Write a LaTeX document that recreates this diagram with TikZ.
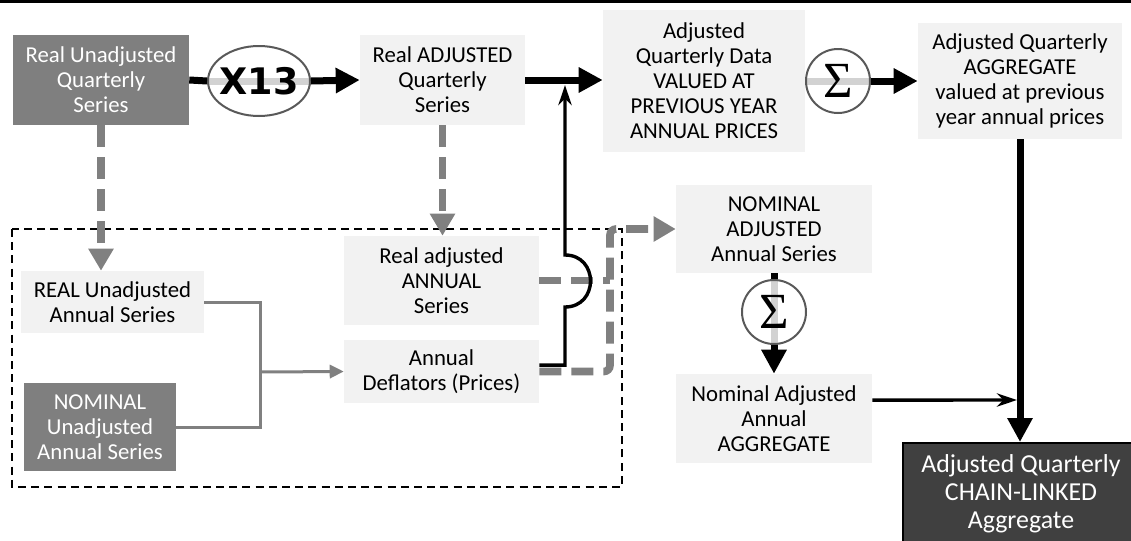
\documentclass[tikz,border=0pt]{standalone}
\usepackage{fontspec}
\setmainfont{Carlito}
\newfontfamily\heavyfont{DejaVu Sans}
\newfontfamily\sigmafont{Liberation Serif}
\usetikzlibrary{arrows.meta,shapes.geometric,backgrounds}
\definecolor{boxdark}{RGB}{127,127,127}
\definecolor{boxlight}{RGB}{242,242,242}
\definecolor{chainfill}{RGB}{64,64,64}
\definecolor{ringgray}{RGB}{89,89,89}
\definecolor{flowgray}{RGB}{128,128,128}
\definecolor{bandgray}{RGB}{210,210,210}
\newcommand\diagfont{\fontsize{16.2}{17.8}\selectfont}
\tikzset{
  box/.style={inner sep=0pt, align=center, font=\diagfont},
  lightbox/.style={box, fill=boxlight},
  darkbox/.style={box, fill=boxdark, text=white},
  chainbox/.style={box, fill=chainfill, draw=black, line width=0.5mm, text=white,
    font=\fontsize{18.4}{19.9}\selectfont},
  opring/.style={circle, draw=ringgray, line width=0.5mm, inner sep=0pt, minimum size=16mm,
    font=\sigmafont\fontsize{36}{36}\selectfont},
  opoval/.style={ellipse, draw=ringgray, line width=0.5mm, inner sep=0pt,
    font=\heavyfont\bfseries\fontsize{26}{26}\selectfont},
  stem/.style={line width=1.75mm},
  flow/.style={stem, -{Triangle[length=6mm,width=6mm]}},
  band/.style={bandgray, line width=1.75mm},
  carry/.style={flowgray, line width=1.9mm, dash pattern=on 5.5mm off 2.5mm,
    -{Triangle[length=5.5mm,width=6mm]}},
  feed/.style={flowgray, line width=0.75mm},
  link/.style={line width=0.85mm, -{Stealth[length=5mm,width=3.3mm]}},
  frame/.style={line width=0.5mm, dash pattern=on 2mm off 1.3mm},
}
\begin{document}
\begin{tikzpicture}[x=0.25mm, y=-0.25mm]
   \useasboundingbox (0,0) rectangle (1131,540);
   \draw[line width=0.75mm] (0,1.5) -- (1131,1.5);

   \node[darkbox, minimum width=44mm, minimum height=22.5mm] (rq) at (101,80) {Real Unadjusted\\Quarterly\\Series};
   \node[opoval, minimum width=25.5mm, minimum height=17.5mm] (xiii) at (259,81) {\makebox[0pt]{X13}};
   \node[lightbox, minimum width=41.25mm, minimum height=22.5mm] (raq) at (442.5,80) {Real ADJUSTED\\Quarterly\\Series};
   \node[lightbox, minimum width=50.5mm, minimum height=35.5mm] (vpy) at (704,81) {Adjusted\\Quarterly Data\\VALUED AT\\PREVIOUS YEAR\\ANNUAL PRICES};
   \node[opring] (sumq) at (838,81) {Σ};
   \node[lightbox, minimum width=51mm, minimum height=29mm] (aqa) at (1020,81) {Adjusted Quarterly\\AGGREGATE\\valued at previous\\year annual prices};

   \node[lightbox, minimum width=45.75mm, minimum height=15.5mm] (rua) at (112.5,302) {REAL Unadjusted\\Annual Series};
   \node[darkbox, minimum width=38mm, minimum height=22mm] (nua) at (100,427) {NOMINAL\\Unadjusted\\Annual Series};
   \node[lightbox, minimum width=48.75mm, minimum height=22.25mm] (raa) at (441.5,280.5) {Real adjusted\\ANNUAL\\Series};
   \node[lightbox, minimum width=48.75mm, minimum height=15.75mm] (defl) at (441.5,371.5) {Annual\\Deflators (Prices)};

   \node[lightbox, minimum width=49mm, minimum height=22mm] (naa) at (774,229) {NOMINAL\\ADJUSTED\\Annual Series};
   \node[opring] (suma) at (774,312) {Σ};
   \node[lightbox, minimum width=49mm, minimum height=22.25mm] (nag) at (774,418.5) {Nominal Adjusted\\Annual\\AGGREGATE};
   \node[chainbox, minimum width=59mm, minimum height=25.5mm] (chain) at (1021,494) {Adjusted Quarterly\\CHAIN-LINKED\\Aggregate};

   \coordinate (jn) at (260,372);
   \coordinate (rise) at (610,300);
   \coordinate (tap) at (565,85);
   \coordinate (meet) at (1017,400);

   \draw[frame] (12,229) rectangle (622,487);

   \begin{scope}[on background layer]
      \draw[band] (xiii.west) -- (xiii.east);
      \draw[band] (sumq.west) -- (sumq.east);
      \draw[band] (suma.north) -- (suma.south);
   \end{scope}

   \draw[stem] (rq.east) -- (xiii.west);
   \draw[flow] (xiii.east) -- (raq.west);
   \draw[flow] (raq.east) -- (raq.east -| vpy.west);
   \draw[flow] (sumq.east) -- (aqa.west);
   \draw[flow] (aqa.south) -- (aqa.south |- chain.north);

   \draw[carry] (rq.south) -- (rq.south |- rua.north);
   \draw[carry] (raq.south) -- (raq.south |- raa.north);

   \draw[feed] (rua.east) -| (jn);
   \draw[feed] (nua.east) -| (jn);
   \draw[feed, -{Triangle[length=3.5mm,width=3.3mm]}] (jn) -- (defl.west);

   \draw[carry, -] (raa.east) -- (raa.east -| rise);
   \draw[carry, rounded corners=1.5mm] (defl.east) -| (rise) |- (naa.west);
   \draw[link] ([yshift=1.6mm]defl.east) -| (565,307) .. controls (599,307) and (599,255) .. (565,255) -- (tap);

   \draw[stem] (naa.south) -- (suma.north);
   \draw[flow] (suma.south) -- (nag.north);
   \draw[link] ([yshift=4.6mm]nag.east) -- (meet);
\end{tikzpicture}
\end{document}
